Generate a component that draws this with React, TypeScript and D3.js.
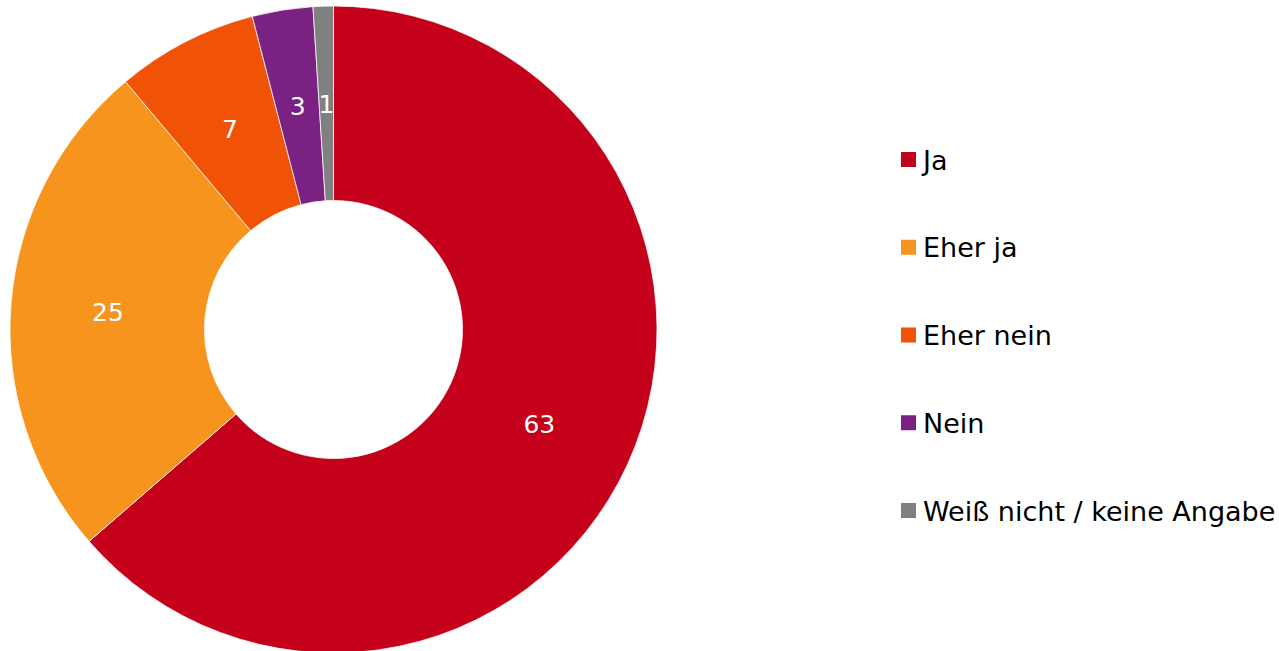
import React from "react";
import * as d3 from "d3";

const categories = ["Ja", "Eher ja", "Eher nein", "Nein", "Weiß nicht / keine Angabe"];
const values = [63, 25, 7, 3, 1];
const colors = ["#C4001A", "#F7941E", "#F05206", "#7B2183", "#808080"];

export default function App() {
  const W = 1279, H = 651;
  const cx = 333.5, cy = 329.5;
  const outerR = 323.5, innerR = 129;
  const data = categories.map((c, i) => ({ c, v: values[i], col: colors[i] }));
  const pie = d3.pie<any>().value((d) => d.v).sort(null);
  const arcs = pie(data);
  const arc = d3.arc<any>().innerRadius(innerR).outerRadius(outerR);
  const legendY = d3.scalePoint<string>().domain(categories).range([160, 511]);
  return (
    <svg width={W} height={H} style={{ position: "absolute", left: 0, top: 0 }}
      fontFamily="'DejaVu Sans', Verdana, sans-serif">
      <g transform={`translate(${cx},${cy})`}>
        {arcs.map((a, i) => (
          <path key={i} d={arc(a) || ""} fill={a.data.col} stroke="#fff" strokeWidth={0.75} />
        ))}
        {arcs.map((a, i) => {
          const [x, y] = arc.centroid(a);
          return (
            <text key={"t" + i} x={x} y={y} dy="0.37em" textAnchor="middle" fill="#fff" fontSize={25}>
              {a.data.v}
            </text>
          );
        })}
      </g>
      {categories.map((c, i) => (
        <g key={"l" + i} transform={`translate(901,${legendY(c)})`}>
          <rect x={0} y={-8} width={15} height={15} fill={colors[i]} />
          <text x={22} y={0} dy="0.36em" fontSize={27} fill="#000">{c}</text>
        </g>
      ))}
    </svg>
  );
}
